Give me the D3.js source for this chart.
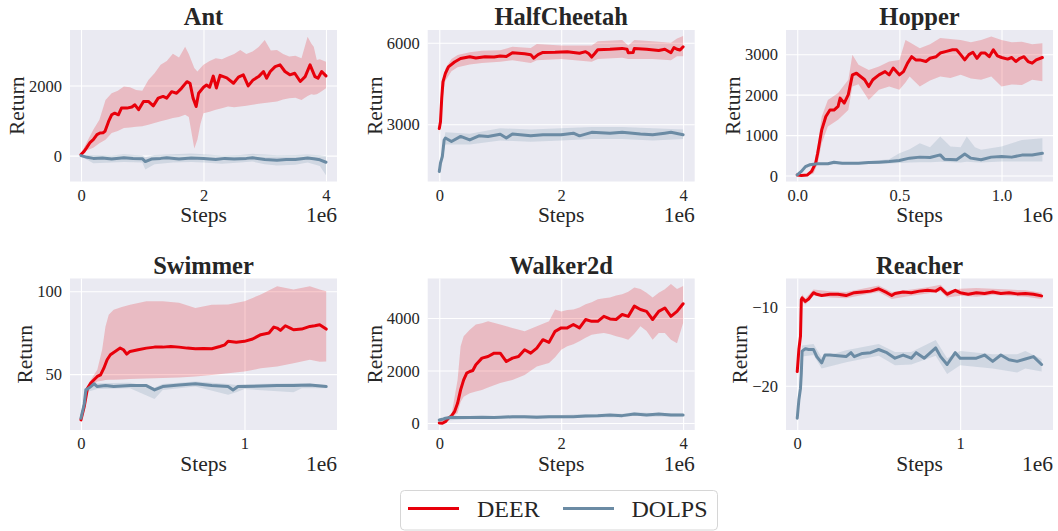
<!DOCTYPE html>
<html>
<head>
<meta charset="utf-8">
<script src="https://cdn.jsdelivr.net/npm/d3@7"></script>
<style>
  html, body { margin: 0; padding: 0; background: #ffffff; }
  svg { display: block; }
  svg text { font-family: "Liberation Serif", "Times New Roman", Times, serif; }
</style>
</head>
<body>
<svg id="chart" width="1058" height="531"></svg>
<script>
// Training curves: steps are in millions (axis offset "1e6").
// Mean series are [step, return]; bands are [step, low, high].

const antDeer = [[0,30],[0.05,120],[0.09,220],[0.15,380],[0.2,455],[0.26,600],[0.31,645],[0.36,650],[0.39,690],[0.45,975],[0.5,1165],[0.55,1210],[0.61,1165],[0.66,1355],[0.75,1355],[0.83,1385],[0.88,1450],[0.94,1310],[1.02,1545],[1.1,1545],[1.18,1420],[1.26,1640],[1.34,1690],[1.4,1640],[1.48,1825],[1.56,1780],[1.64,1920],[1.73,2110],[1.78,2065],[1.83,1640],[1.88,1400],[1.92,1780],[2.0,1950],[2.05,2015],[2.1,1950],[2.16,2270],[2.21,1930],[2.27,2290],[2.38,2220],[2.49,2065],[2.57,2240],[2.65,2305],[2.73,1990],[2.81,2160],[2.9,2255],[2.98,2400],[3.03,2210],[3.09,2400],[3.17,2540],[3.25,2590],[3.33,2400],[3.41,2305],[3.49,2350],[3.58,2115],[3.66,2255],[3.74,2590],[3.82,2255],[3.87,2210],[3.93,2400],[4.0,2275]];
const antDeerBand = [[0,0,60],[0.1,150,400],[0.2,220,740],[0.3,350,1020],[0.4,455,1590],[0.5,645,1780],[0.6,700,1850],[0.7,790,1970],[0.8,800,1950],[0.9,820,1875],[1.0,835,1850],[1.1,880,2160],[1.2,930,2350],[1.3,980,2590],[1.4,1020,2700],[1.5,1070,2910],[1.6,1100,2800],[1.7,1165,3110],[1.76,1100,2900],[1.85,200,2500],[1.9,450,2400],[1.95,900,2500],[2.0,1210,2590],[2.1,1250,2700],[2.2,1310,2780],[2.3,1350,2750],[2.4,1400,2825],[2.5,1380,2900],[2.6,1400,3015],[2.7,1420,2900],[2.8,1450,2970],[2.9,1480,3100],[3.0,1500,3300],[3.1,1520,3000],[3.2,1545,3015],[3.3,1600,2900],[3.4,1640,2830],[3.5,1650,2850],[3.6,1590,2780],[3.7,1700,3395],[3.76,1750,3200],[3.8,1735,3110],[3.85,1750,2730],[3.9,1800,2750],[4.0,1920,2680]];
const antDolps = [[0,0],[0.1,-50],[0.2,-80],[0.35,-70],[0.5,-100],[0.7,-60],[0.85,-80],[1.0,-90],[1.05,-170],[1.15,-100],[1.3,-80],[1.4,-60],[1.6,-100],[1.8,-70],[2.0,-80],[2.2,-110],[2.35,-80],[2.5,-100],[2.7,-80],[2.8,-60],[3.0,-110],[3.2,-130],[3.35,-110],[3.5,-110],[3.7,-70],[3.8,-90],[3.9,-120],[4.0,-190]];
const antDolpsBand = [[0,-20,20],[0.2,-220,20],[0.5,-200,0],[0.7,-180,40],[1.0,-200,0],[1.05,-400,-50],[1.2,-250,20],[1.5,-200,40],[1.8,-180,60],[2.0,-200,40],[2.3,-230,0],[2.6,-200,20],[2.8,-170,50],[3.0,-250,30],[3.2,-280,10],[3.5,-260,20],[3.7,-200,30],[3.9,-300,10],[4.0,-560,-20]];

const cheetahDeer = [[0,2840],[0.02,3090],[0.04,3950],[0.06,4560],[0.1,4870],[0.15,5110],[0.25,5290],[0.35,5420],[0.5,5480],[0.6,5440],[0.75,5480],[0.9,5470],[1.0,5510],[1.1,5490],[1.2,5630],[1.4,5590],[1.5,5560],[1.55,5430],[1.62,5560],[1.7,5640],[1.9,5650],[2.1,5670],[2.3,5610],[2.4,5670],[2.45,5600],[2.5,5470],[2.55,5600],[2.6,5740],[2.8,5760],[3.0,5790],[3.08,5760],[3.1,5630],[3.18,5640],[3.2,5790],[3.4,5760],[3.6,5710],[3.7,5760],[3.8,5630],[3.85,5820],[3.9,5760],[3.95,5730],[4.0,5850]];
const cheetahDeerBand = [[0,2600,3050],[0.05,3900,4600],[0.1,4600,5050],[0.2,4950,5400],[0.3,5100,5550],[0.5,5200,5650],[0.7,5250,5700],[1.0,5300,5720],[1.2,5350,5850],[1.5,5250,5800],[1.6,5350,5950],[2.0,5400,5900],[2.5,5300,5900],[2.6,5400,6050],[3.0,5450,6100],[3.1,5400,5900],[3.2,5400,6100],[3.5,5400,6050],[3.8,5350,6000],[3.9,5500,6150],[4.0,5500,6250]];
const cheetahDolps = [[0,1260],[0.02,1570],[0.05,1810],[0.08,2420],[0.1,2490],[0.2,2360],[0.35,2550],[0.5,2420],[0.65,2570],[0.8,2550],[1.0,2630],[1.1,2490],[1.2,2640],[1.5,2570],[1.7,2610],[2.0,2610],[2.2,2670],[2.3,2570],[2.5,2700],[2.8,2670],[3.0,2700],[3.3,2640],[3.5,2610],[3.7,2670],[3.8,2700],[4.0,2610]];
const cheetahDolpsBand = [[0,1150,1400],[0.1,2250,2700],[0.5,2250,2650],[1.0,2400,2850],[1.5,2350,2800],[2.0,2400,2850],[2.5,2450,2900],[3.0,2450,2900],[3.5,2400,2850],[4.0,2450,2800]];

const hopperDeer = [[0,15],[0.02,0],[0.05,15],[0.07,100],[0.09,305],[0.1,550],[0.12,1130],[0.14,1460],[0.16,1620],[0.18,1620],[0.2,1710],[0.21,1915],[0.23,1790],[0.25,2000],[0.27,2490],[0.29,2530],[0.31,2450],[0.33,2370],[0.35,2200],[0.37,2370],[0.4,2490],[0.43,2570],[0.45,2490],[0.47,2660],[0.5,2490],[0.52,2570],[0.54,2780],[0.56,2940],[0.58,2860],[0.6,2860],[0.63,2820],[0.65,2900],[0.68,2940],[0.7,3030],[0.73,3070],[0.76,3110],[0.78,3110],[0.8,2990],[0.82,2860],[0.84,2990],[0.86,3050],[0.88,2900],[0.9,3030],[0.92,3030],[0.94,2940],[0.96,3110],[0.98,2960],[1.0,2920],[1.03,2880],[1.05,2920],[1.07,2820],[1.09,2900],[1.11,2940],[1.13,2820],[1.15,2780],[1.17,2860],[1.2,2920]];
const hopperDeerBand = [[0,0,30],[0.05,0,40],[0.08,50,200],[0.1,300,750],[0.12,800,1460],[0.15,1210,1870],[0.2,1380,2040],[0.25,1620,2370],[0.27,2200,2990],[0.3,2260,2740],[0.35,1870,2610],[0.4,2120,2700],[0.45,2200,2820],[0.5,2120,2860],[0.53,2300,3350],[0.55,2450,3300],[0.6,2200,3150],[0.65,2350,3250],[0.7,2450,3400],[0.75,2410,3380],[0.8,2490,3350],[0.85,2400,3300],[0.9,2370,3350],[0.95,2450,3440],[1.0,2200,3350],[1.05,2250,3300],[1.1,2240,3310],[1.15,2370,3250],[1.2,2330,3270]];
const hopperDolps = [[0,15],[0.02,100],[0.04,220],[0.06,265],[0.1,290],[0.15,290],[0.18,330],[0.22,305],[0.3,305],[0.35,320],[0.4,330],[0.45,345],[0.5,370],[0.55,430],[0.6,455],[0.65,445],[0.7,510],[0.72,405],[0.78,390],[0.82,530],[0.85,430],[0.9,390],[0.95,455],[1.0,470],[1.05,455],[1.1,505],[1.15,510],[1.2,550]];
const hopperDolpsBand = [[0,0,30],[0.05,200,280],[0.1,270,310],[0.3,280,330],[0.45,300,400],[0.5,310,550],[0.55,320,650],[0.6,330,800],[0.65,330,700],[0.7,340,965],[0.75,330,720],[0.8,320,700],[0.83,340,965],[0.87,330,700],[0.9,320,635],[1.0,345,720],[1.1,345,880],[1.2,345,925]];

const swimmerDeer = [[0,22.4],[0.02,30.4],[0.04,41.5],[0.06,44.6],[0.08,46.6],[0.1,48.6],[0.12,49.6],[0.14,53.6],[0.16,58.7],[0.18,61.7],[0.2,63.1],[0.24,65.7],[0.26,64.7],[0.28,62.1],[0.3,63.7],[0.35,64.7],[0.4,65.7],[0.45,66.3],[0.5,66.3],[0.55,66.7],[0.6,66.3],[0.65,65.7],[0.7,65.3],[0.75,65.5],[0.8,65.3],[0.85,66.7],[0.88,67.7],[0.9,69.8],[0.95,69.2],[1.0,69.8],[1.05,71.2],[1.1,73.8],[1.15,74.8],[1.18,78.4],[1.2,77.8],[1.22,76.4],[1.25,79.2],[1.28,77.8],[1.3,76.8],[1.35,77.2],[1.4,78.8],[1.43,79.2],[1.46,79.8],[1.5,77.2]];
const swimmerDeerBand = [[0,21.5,23],[0.03,36,40],[0.05,41,45],[0.1,45.6,52.6],[0.13,46,65],[0.15,46.5,78.8],[0.17,46.6,85.9],[0.2,46.6,88.9],[0.25,46.8,90.5],[0.3,47,91.9],[0.4,47.3,94.0],[0.5,47.6,94.0],[0.6,48,93],[0.7,48.6,89.9],[0.8,49.5,91.9],[0.9,50.6,92],[1.0,51.6,94],[1.05,52.5,96],[1.1,53.6,98],[1.2,54.6,103],[1.3,56.6,101],[1.4,58.7,103],[1.46,57.5,101],[1.5,57.7,100]];
const swimmerDolps = [[0,23.4],[0.02,32],[0.03,40.6],[0.04,41],[0.06,42.5],[0.08,44.2],[0.1,42.5],[0.15,43.1],[0.2,42.5],[0.3,43.1],[0.4,43.1],[0.45,40.5],[0.5,42.5],[0.6,43.5],[0.7,44.2],[0.8,43.1],[0.9,42.5],[0.93,40.5],[0.96,42.5],[1.0,42.5],[1.2,43.1],[1.3,43.1],[1.4,43.5],[1.5,42.5]];
const swimmerDolpsBand = [[0,22.5,24.5],[0.03,39,42],[0.1,41,44.5],[0.3,41.5,44.8],[0.45,35,42],[0.5,40.5,44],[0.7,42.5,45.5],[0.9,37.5,44],[0.95,39,43.5],[1.0,41,44],[1.3,39,44.5],[1.35,41.5,44.5],[1.5,41.5,43.5]];

const walkerDeer = [[0,0],[0.05,-10],[0.1,50],[0.15,180],[0.2,270],[0.25,430],[0.3,750],[0.35,1260],[0.4,1640],[0.45,1900],[0.5,1960],[0.55,2000],[0.6,2220],[0.7,2470],[0.8,2530],[0.9,2660],[1.0,2660],[1.1,2340],[1.2,2470],[1.3,2530],[1.4,2790],[1.5,2660],[1.6,2850],[1.7,3170],[1.8,3070],[1.9,3490],[2.0,3620],[2.1,3620],[2.2,3750],[2.3,3620],[2.4,3940],[2.5,3870],[2.6,3870],[2.7,4060],[2.8,3960],[2.9,3940],[3.0,4130],[3.1,4060],[3.2,4450],[3.3,4320],[3.4,4250],[3.5,3940],[3.6,4250],[3.7,4380],[3.8,4060],[3.9,4250],[4.0,4540]];
const walkerDeerBand = [[0,-30,30],[0.2,240,300],[0.3,370,1640],[0.35,800,2920],[0.4,1000,3300],[0.5,1130,3550],[0.6,1200,3750],[0.7,1260,3800],[0.8,1350,3870],[1.0,1520,3750],[1.2,1640,3620],[1.4,1830,3490],[1.6,2150,3680],[1.8,2280,3870],[1.9,2500,4320],[2.0,2790,4250],[2.1,2920,4300],[2.2,3000,4320],[2.3,3110,4400],[2.4,3250,4520],[2.5,3360,4600],[2.6,3400,4710],[2.7,3430,4750],[2.8,3380,4780],[2.9,3300,4850],[3.0,3250,4900],[3.1,3170,5000],[3.2,3400,5160],[3.3,3680,5100],[3.4,3500,4960],[3.5,3170,4780],[3.6,3430,4960],[3.7,3430,5090],[3.8,3170,5290],[3.9,3040,5100],[4.0,3810,5220]];
const walkerDolps = [[0,115],[0.05,140],[0.1,180],[0.2,215],[0.3,205],[0.5,205],[0.7,215],[0.9,205],[1.0,215],[1.2,240],[1.4,240],[1.6,215],[1.8,240],[2.0,240],[2.2,240],[2.4,270],[2.6,280],[2.8,305],[3.0,280],[3.2,345],[3.4,305],[3.6,345],[3.8,305],[4.0,305]];
const walkerDolpsBand = [[0,80,150],[0.5,150,260],[1.0,160,270],[1.5,170,290],[2.0,180,300],[2.5,210,340],[3.0,220,350],[3.2,280,410],[3.5,240,380],[4.0,250,360]];

const reacherDeer = [[0,-18.2],[0.01,-15.4],[0.02,-13.7],[0.025,-9.07],[0.03,-8.86],[0.05,-9.3],[0.07,-9.0],[0.1,-8.2],[0.12,-8.4],[0.15,-8.56],[0.2,-8.4],[0.25,-8.4],[0.3,-8.56],[0.35,-8.2],[0.4,-8.1],[0.45,-8.0],[0.5,-7.7],[0.55,-8.2],[0.58,-8.56],[0.6,-8.3],[0.65,-8.1],[0.7,-8.2],[0.75,-8.0],[0.8,-7.9],[0.85,-8.0],[0.88,-7.6],[0.9,-8.0],[0.92,-8.4],[0.95,-8.1],[0.97,-7.9],[1.0,-8.2],[1.05,-8.4],[1.1,-8.2],[1.15,-8.3],[1.2,-8.1],[1.25,-8.3],[1.3,-8.2],[1.35,-8.35],[1.4,-8.3],[1.45,-8.4],[1.5,-8.6]];
const reacherDeerBand = [[0,-18.8,-17.6],[0.02,-14.5,-13],[0.03,-9.3,-8.4],[0.05,-9.7,-8.9],[0.1,-8.6,-7.8],[0.2,-8.8,-8.0],[0.3,-8.9,-8.1],[0.4,-8.5,-7.7],[0.5,-8.1,-7.3],[0.58,-9.0,-8.1],[0.7,-8.6,-7.8],[0.8,-8.3,-7.5],[0.88,-8.0,-7.2],[0.92,-8.8,-8.0],[1.0,-8.6,-7.7],[1.1,-8.7,-7.6],[1.2,-8.5,-7.7],[1.3,-8.6,-7.8],[1.4,-8.7,-7.9],[1.5,-9.0,-8.2]];
const reacherDolps = [[0,-24.1],[0.01,-21.8],[0.02,-20.3],[0.025,-18.4],[0.03,-15.6],[0.05,-15.3],[0.07,-15.4],[0.1,-15.4],[0.12,-16.3],[0.15,-17.1],[0.17,-16.1],[0.2,-16.1],[0.25,-16.2],[0.3,-16.3],[0.33,-15.8],[0.35,-16.3],[0.4,-15.9],[0.45,-15.8],[0.5,-15.4],[0.55,-15.8],[0.6,-16.5],[0.65,-16.1],[0.7,-16.5],[0.73,-15.8],[0.78,-16.5],[0.85,-15.2],[0.88,-16.3],[0.92,-17.3],[0.97,-15.8],[1.0,-16.5],[1.05,-16.5],[1.1,-16.5],[1.15,-16.1],[1.2,-16.9],[1.25,-16.1],[1.3,-16.7],[1.35,-16.9],[1.4,-16.6],[1.45,-16.3],[1.5,-17.3]];
const reacherDolpsBand = [[0,-24.5,-23.7],[0.03,-16.3,-14.9],[0.1,-16.1,-14.7],[0.15,-17.8,-16.4],[0.3,-17.0,-15.5],[0.5,-16.2,-14.7],[0.6,-17.4,-15.7],[0.7,-17.3,-15.7],[0.85,-16.2,-14.2],[0.92,-18.5,-16.5],[1.0,-17.4,-15.6],[1.2,-17.8,-16.0],[1.35,-18.3,-16.0],[1.4,-17.8,-15.6],[1.5,-18.2,-16.6]];

const methods = ["DEER", "DOLPS"];
const methodColors = ["#e8000b", "#6b8ba4"];

// Axis domains and tick values for each environment
const envNames = ["Ant", "HalfCheetah", "Hopper", "Swimmer", "Walker2d", "Reacher"];
const xDomains = [[-0.18, 4.18], [-0.19, 4.19], [-0.055, 1.252], [-0.067, 1.566], [-0.19, 4.19], [-0.069, 1.570]];
const yDomains = [[-740, 3585], [890, 6467], [-148, 3600], [16.3, 107.7], [-267, 5502], [-25.6, -6.4]];
const xTicks = [[0, 2, 4], [0, 2, 4], [0, 0.5, 1.0], [0, 1], [0, 2, 4], [0, 1]];
const yTicks = [[0, 2000], [3000, 6000], [0, 1000, 2000, 3000], [50, 100], [0, 2000, 4000], [-20, -10]];
const xTickFormats = ["d", "d", ".1f", "d", "d", "d"];

const seriesByEnv = [
  [antDeer, antDeerBand, antDolps, antDolpsBand],
  [cheetahDeer, cheetahDeerBand, cheetahDolps, cheetahDolpsBand],
  [hopperDeer, hopperDeerBand, hopperDolps, hopperDolpsBand],
  [swimmerDeer, swimmerDeerBand, swimmerDolps, swimmerDolpsBand],
  [walkerDeer, walkerDeerBand, walkerDolps, walkerDolpsBand],
  [reacherDeer, reacherDeerBand, reacherDolps, reacherDolpsBand]
];

// Panel grid
const colLeft = [70, 427.7, 786];
const rowTop = [30, 278.5];
const panelW = 267, panelH = 151.5;
const textColor = "#262626";
const serif = "'Liberation Serif', 'Times New Roman', Times, serif";

const svg = d3.select("#chart");

envNames.forEach((name, i) => {
  const left = colLeft[i % 3], top = rowTop[Math.floor(i / 3)];
  const x = d3.scaleLinear().domain(xDomains[i]).range([left, left + panelW]);
  const y = d3.scaleLinear().domain(yDomains[i]).range([top + panelH, top]);
  const g = svg.append("g");

  g.append("rect").attr("x", left).attr("y", top).attr("width", panelW).attr("height", panelH).attr("fill", "#eaeaf2");

  const clipId = "clip" + i;
  svg.append("clipPath").attr("id", clipId).append("rect")
    .attr("x", left).attr("y", top).attr("width", panelW).attr("height", panelH);

  // grid via axes with full-length ticks
  const gx = g.append("g").attr("transform", `translate(0,${top + panelH})`)
    .call(d3.axisBottom(x).tickValues(xTicks[i]).tickSize(panelH).tickSizeOuter(0).tickFormat(d3.format(xTickFormats[i])));
  gx.attr("font-family", serif);
  gx.select(".domain").remove();
  gx.selectAll(".tick line").attr("stroke", "#ffffff").attr("stroke-width", 1.1).attr("transform", `translate(0,${-panelH})`);
  gx.selectAll(".tick text").attr("y", 0).attr("dy", 0)
    .attr("transform", "translate(0,19)")
    .attr("font-size", 16.5).attr("fill", textColor);

  const gy = g.append("g").attr("transform", `translate(${left},0)`)
    .call(d3.axisLeft(y).tickValues(yTicks[i]).tickSize(-panelW).tickSizeOuter(0).tickFormat(d3.format("d")));
  gy.attr("font-family", serif);
  gy.select(".domain").remove();
  gy.selectAll(".tick line").attr("stroke", "#ffffff").attr("stroke-width", 1.1);
  gy.selectAll(".tick text").attr("x", -8).attr("dy", "0.34em")
    .attr("font-size", 16.5).attr("fill", textColor);

  let maxW = 0;
  gy.selectAll(".tick text").each(function () { maxW = Math.max(maxW, this.getComputedTextLength()); });

  const [deer, deerBand, dolps, dolpsBand] = seriesByEnv[i];
  const area = d3.area().x(d => x(d[0])).y0(d => y(d[1])).y1(d => y(d[2]));
  const line = d3.line().x(d => x(d[0])).y(d => y(d[1]));
  const marks = g.append("g").attr("clip-path", `url(#${clipId})`);

  [[deerBand, deer, 0], [dolpsBand, dolps, 1]].forEach(([band, mean, k]) => {
    marks.append("path").datum(band).attr("d", area)
      .attr("fill", methodColors[k]).attr("fill-opacity", 0.2).attr("stroke", "none");
    marks.append("path").datum(mean).attr("d", line)
      .attr("fill", "none").attr("stroke", methodColors[k]).attr("stroke-width", 3)
      .attr("stroke-linejoin", "round").attr("stroke-linecap", "round");
  });

  // title and axis labels
  g.append("text").attr("x", left + panelW / 2).attr("y", top - 5).attr("text-anchor", "middle")
    .attr("font-family", serif).attr("font-size", 24.5).attr("font-weight", "bold").attr("fill", textColor).text(name);
  g.append("text").attr("x", left + panelW / 2).attr("y", top + panelH + 40.5).attr("text-anchor", "middle")
    .attr("font-family", serif).attr("font-size", 21.5).attr("fill", textColor).text("Steps");
  g.append("text").attr("x", left + panelW).attr("y", top + panelH + 40.5).attr("text-anchor", "end")
    .attr("font-family", serif).attr("font-size", 21.5).attr("fill", textColor).text("1e6");
  const lx = left - 8 - maxW - 5;
  g.append("text").attr("transform", `translate(${lx},${top + panelH / 2}) rotate(-90)`)
    .attr("text-anchor", "middle").attr("font-family", serif).attr("font-size", 21.5).attr("fill", textColor).text("Return");
});

// Legend
const legend = svg.append("g");
legend.append("rect").attr("x", 400.5).attr("y", 490.5).attr("width", 317).attr("height", 39.5).attr("rx", 4)
  .attr("fill", "#ffffff").attr("stroke", "#d6d6d6").attr("stroke-width", 1);
const legendLineX = [408, 563];
const legendTextX = [477, 631.5];
methods.forEach((m, k) => {
  legend.append("line").attr("x1", legendLineX[k]).attr("x2", legendLineX[k] + 51)
    .attr("y1", 508.5).attr("y2", 508.5).attr("stroke", methodColors[k]).attr("stroke-width", 3);
  legend.append("text").attr("x", legendTextX[k]).attr("y", 517).attr("font-family", serif).attr("font-size", 24)
    .attr("fill", textColor).text(m);
});
</script>
</body>
</html>
